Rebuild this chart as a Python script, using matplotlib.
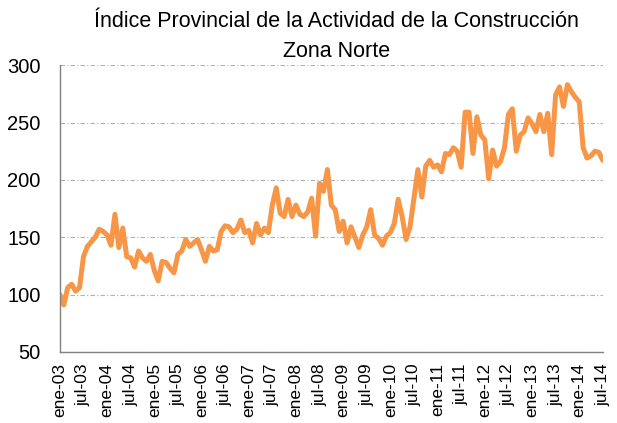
import matplotlib
matplotlib.use('Agg')
import matplotlib.pyplot as plt

# monthly index, ene-03 .. jul-14
values = [100, 91, 106, 109, 103, 106, 133, 142, 146, 150,
          157, 155, 152, 143, 170, 141, 158, 133, 132, 124,
          138, 132, 129, 135, 121, 112, 129, 128, 123, 119,
          135, 138, 148, 142, 145, 148, 139, 129, 142, 138,
          139, 155, 160, 159, 154, 157, 165, 154, 156, 145,
          162, 152, 158, 154, 178, 193, 171, 168, 183, 168,
          178, 170, 168, 172, 184, 151, 197, 190, 209, 178,
          174, 155, 164, 145, 159, 150, 141, 152, 159, 174,
          152, 149, 143, 151, 154, 162, 183, 168, 148, 159,
          184, 209, 185, 212, 217, 211, 213, 207, 223, 222,
          228, 225, 211, 259, 259, 223, 255, 239, 235, 201,
          226, 212, 216, 228, 257, 262, 225, 239, 242, 254,
          249, 242, 257, 242, 258, 222, 274, 281, 264, 283,
          277, 272, 268, 228, 219, 221, 225, 224, 217]

tick_labels = [m + '-%02d' % y for y in range(3, 15) for m in ('ene', 'jul')]
title = 'Índice Provincial de la Actividad de la Construcción\nZona Norte'

plt.rcParams['font.family'] = ['Liberation Sans', 'DejaVu Sans']

fig = plt.figure(figsize=(6.17, 4.23), dpi=100)
ax = fig.add_axes([0.097, 0.168, 0.88, 0.678])

ax.plot(range(len(values)), values, color='#F79646', lw=3.6,
        solid_joinstyle='round', solid_capstyle='round')

ax.set_xlim(0, len(values) - 1)
ax.set_ylim(50, 300)
ax.set_yticks([50, 100, 150, 200, 250, 300])
ax.set_xticks(range(0, len(values), 6))
ax.set_xticklabels(tick_labels, rotation=90)
ax.tick_params(axis='both', length=0)
ax.tick_params(axis='x', pad=8, labelsize=12.5)
ax.tick_params(axis='y', pad=14, labelsize=14.5)

ax.grid(axis='y', color='#B0B0B0', ls=(0, (4, 2, 1, 2)), lw=0.8)
ax.set_axisbelow(True)
for s in ('top', 'right'):
    ax.spines[s].set_visible(False)
for s in ('left', 'bottom'):
    ax.spines[s].set_color('#808080')
    ax.spines[s].set_linewidth(1)

fig.text(0.546, 0.975, title, ha='center', va='top', fontsize=15.5,
         linespacing=1.6)

fig.savefig('out.png', dpi=100)
